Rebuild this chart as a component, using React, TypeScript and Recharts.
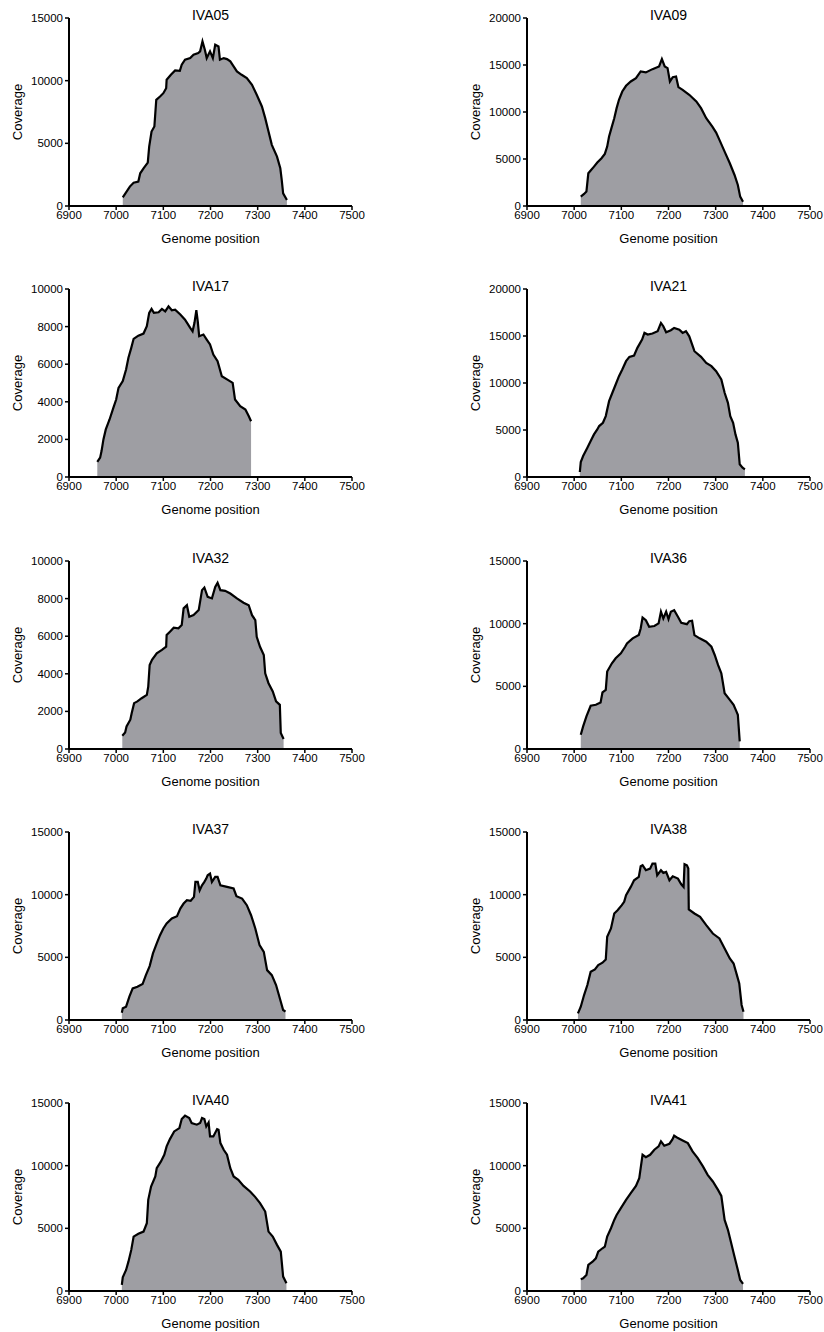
import { Area, AreaChart, Label, XAxis, YAxis } from "recharts";

type Pt = [number, number];

const xTicks = [6900, 7000, 7100, 7200, 7300, 7400, 7500];
const yTicks10k = [0, 2000, 4000, 6000, 8000, 10000];
const yTicks15k = [0, 5000, 10000, 15000];
const yTicks20k = [0, 5000, 10000, 15000, 20000];

// [genome position, coverage]
const iva05: Pt[] = [
  [7014, 690], [7029, 1550], [7037, 1860], [7047, 1950], [7051, 2610], [7058, 3010],
  [7067, 3460], [7070, 4740], [7075, 5940], [7081, 6340], [7085, 8470], [7093, 8740],
  [7100, 9000], [7106, 9400], [7107, 10070], [7116, 10470], [7125, 10820], [7135, 10790],
  [7139, 11270], [7146, 11670], [7157, 11800], [7164, 12070], [7174, 12200], [7178, 12340],
  [7183, 13130], [7188, 12470], [7192, 11800], [7199, 12340], [7205, 11800], [7210, 12870],
  [7217, 12730], [7220, 11670], [7228, 11800], [7235, 11720], [7242, 11540], [7249, 11140],
  [7256, 10740], [7266, 10470], [7277, 10200], [7288, 9670], [7298, 8870], [7309, 7940],
  [7316, 7010], [7323, 5940], [7330, 4880], [7341, 3940], [7348, 3010], [7351, 2080],
  [7354, 1010], [7362, 480],
];

const iva09: Pt[] = [
  [7014, 1000], [7021, 1280], [7026, 1530], [7030, 3480], [7035, 3770], [7042, 4190],
  [7049, 4620], [7058, 5080], [7065, 5540], [7070, 6320], [7074, 7390], [7079, 8280],
  [7085, 9340], [7090, 10410], [7095, 11300], [7102, 12180], [7110, 12790], [7120, 13250],
  [7131, 13600], [7141, 14320], [7152, 14210], [7166, 14560], [7180, 14850], [7186, 15630],
  [7192, 14850], [7198, 14670], [7203, 13250], [7209, 13710], [7216, 13780], [7221, 12650],
  [7230, 12360], [7244, 11830], [7259, 11120], [7269, 10410], [7280, 9340], [7293, 8450],
  [7301, 7810], [7308, 7030], [7319, 5790], [7330, 4550], [7340, 3300], [7347, 2240],
  [7352, 1000], [7358, 460],
];

const iva17: Pt[] = [
  [6960, 800], [6966, 1030], [6969, 1380], [6973, 2000], [6978, 2530], [6986, 3060],
  [6994, 3680], [7000, 4120], [7005, 4740], [7014, 5100], [7021, 5720], [7026, 6340],
  [7032, 6870], [7037, 7350], [7047, 7520], [7058, 7630], [7065, 8020], [7070, 8730],
  [7075, 8940], [7080, 8730], [7090, 8760], [7097, 8940], [7104, 8810], [7111, 9080],
  [7118, 8870], [7125, 8900], [7136, 8640], [7146, 8370], [7157, 7930], [7162, 7750],
  [7166, 8200], [7170, 8870], [7173, 8280], [7176, 7490], [7185, 7580], [7192, 7310],
  [7199, 7050], [7206, 6510], [7215, 6160], [7224, 5360], [7235, 5190], [7247, 5010],
  [7252, 4120], [7263, 3770], [7274, 3590], [7281, 3240], [7286, 2970],
];

const iva21: Pt[] = [
  [7012, 530], [7014, 1590], [7019, 2230], [7028, 3120], [7035, 3820], [7042, 4530],
  [7049, 5060], [7053, 5420], [7061, 5770], [7067, 6480], [7074, 8070], [7081, 8960],
  [7088, 9840], [7095, 10730], [7102, 11430], [7110, 12320], [7117, 12780], [7127, 12920],
  [7134, 13740], [7144, 14620], [7149, 15330], [7156, 15150], [7166, 15260], [7177, 15510],
  [7184, 16390], [7189, 16040], [7195, 15400], [7205, 15610], [7212, 15860], [7223, 15680],
  [7230, 15330], [7237, 15510], [7244, 14970], [7255, 13380], [7269, 12780], [7280, 12140],
  [7291, 11790], [7301, 11260], [7312, 10370], [7319, 8960], [7326, 7890], [7331, 6480],
  [7337, 5770], [7342, 4530], [7347, 3650], [7351, 1350], [7357, 990], [7362, 810],
];

const iva32: Pt[] = [
  [7013, 710], [7019, 880], [7022, 1200], [7030, 1560], [7033, 1910], [7038, 2440],
  [7045, 2530], [7054, 2700], [7065, 2880], [7068, 3320], [7071, 4470], [7076, 4740],
  [7086, 5090], [7097, 5270], [7106, 5440], [7107, 6060], [7114, 6240], [7122, 6450],
  [7132, 6420], [7139, 6590], [7143, 7480], [7150, 7650], [7155, 7030], [7164, 7120],
  [7175, 7390], [7182, 8450], [7187, 8590], [7194, 8090], [7203, 8010], [7210, 8620],
  [7215, 8840], [7221, 8450], [7231, 8410], [7242, 8270], [7256, 8010], [7270, 7780],
  [7281, 7650], [7288, 7120], [7295, 6860], [7298, 5970], [7305, 5440], [7313, 5000],
  [7316, 4030], [7323, 3500], [7332, 3060], [7339, 2530], [7347, 2350], [7349, 850],
  [7355, 530],
];

const iva36: Pt[] = [
  [7014, 1140], [7019, 1800], [7026, 2600], [7035, 3450], [7046, 3530], [7056, 3710],
  [7060, 4510], [7067, 4720], [7070, 6180], [7080, 6840], [7088, 7240], [7099, 7630],
  [7108, 8160], [7112, 8430], [7124, 8830], [7137, 9090], [7141, 9620], [7145, 10490],
  [7152, 10280], [7159, 9750], [7170, 9810], [7179, 10020], [7184, 10950], [7189, 10410],
  [7195, 10950], [7200, 10360], [7205, 10950], [7212, 11080], [7220, 10550], [7227, 10070],
  [7239, 9960], [7244, 10200], [7250, 10230], [7255, 9090], [7266, 8830], [7280, 8560],
  [7291, 8160], [7298, 7500], [7305, 6710], [7312, 6040], [7319, 4450], [7330, 3920],
  [7338, 3530], [7344, 3000], [7347, 2730], [7351, 610],
];

const iva37: Pt[] = [
  [7012, 580], [7014, 930], [7021, 1060], [7028, 1860], [7035, 2520], [7045, 2660],
  [7056, 2870], [7063, 3580], [7071, 4300], [7078, 5310], [7086, 6110], [7093, 6770],
  [7100, 7300], [7107, 7700], [7118, 8100], [7129, 8280], [7136, 8890], [7143, 9290],
  [7150, 9560], [7158, 9510], [7165, 9820], [7168, 11020], [7173, 11020], [7177, 10350],
  [7182, 10750], [7187, 11020], [7191, 11280], [7194, 11550], [7199, 11680], [7203, 11020],
  [7210, 11420], [7215, 11420], [7221, 10750], [7235, 10620], [7249, 10490], [7255, 9880],
  [7267, 9690], [7277, 9160], [7286, 8360], [7295, 7300], [7304, 5970], [7313, 5440],
  [7320, 3980], [7330, 3580], [7339, 2790], [7348, 1590], [7354, 800], [7359, 660],
];

const iva38: Pt[] = [
  [7008, 530], [7014, 1060], [7021, 1990], [7028, 2790], [7035, 3850], [7044, 4040],
  [7051, 4380], [7060, 4570], [7067, 4830], [7070, 6640], [7078, 7300], [7085, 8500],
  [7092, 8760], [7101, 9160], [7106, 9430], [7110, 9960], [7120, 10620], [7127, 11150],
  [7137, 11420], [7141, 12270], [7145, 12350], [7152, 11950], [7161, 12080], [7166, 12480],
  [7172, 12480], [7176, 11550], [7184, 11950], [7189, 11740], [7195, 11820], [7202, 11150],
  [7209, 11470], [7220, 11280], [7227, 10830], [7232, 10620], [7234, 12430], [7239, 12350],
  [7242, 12080], [7243, 8820], [7255, 8500], [7267, 8230], [7280, 7570], [7294, 6900],
  [7308, 6510], [7319, 5710], [7330, 4910], [7338, 4510], [7344, 3720], [7350, 2920],
  [7355, 1200], [7359, 660],
];

const iva40: Pt[] = [
  [7012, 480], [7014, 1090], [7021, 1680], [7026, 2340], [7032, 3280], [7037, 4340],
  [7047, 4560], [7058, 4740], [7065, 5410], [7068, 7270], [7074, 8340], [7083, 9140],
  [7086, 9800], [7095, 10340], [7102, 10870], [7107, 11540], [7114, 12120], [7123, 12730],
  [7134, 13000], [7139, 13720], [7146, 13990], [7155, 13800], [7160, 13400], [7171, 13270],
  [7178, 13400], [7182, 13800], [7187, 13720], [7191, 13130], [7196, 13450], [7199, 12330],
  [7206, 12330], [7214, 12920], [7217, 12870], [7221, 11800], [7228, 11270], [7235, 10870],
  [7242, 9800], [7249, 9140], [7259, 8870], [7270, 8390], [7284, 7940], [7295, 7490],
  [7305, 7010], [7316, 6340], [7323, 4740], [7332, 4340], [7341, 3680], [7349, 3140],
  [7354, 1150], [7361, 610],
];

const iva41: Pt[] = [
  [7014, 930], [7019, 1010], [7026, 1280], [7030, 2080], [7039, 2340], [7046, 2610],
  [7051, 3140], [7060, 3410], [7065, 3540], [7070, 4340], [7078, 5010], [7085, 5670],
  [7090, 6070], [7099, 6610], [7110, 7270], [7120, 7810], [7131, 8390], [7138, 9000],
  [7141, 9800], [7145, 10870], [7152, 10680], [7161, 10870], [7170, 11270], [7179, 11540],
  [7184, 11940], [7191, 11590], [7202, 11750], [7208, 12070], [7212, 12390], [7220, 12200],
  [7230, 12010], [7241, 11800], [7251, 11140], [7262, 10600], [7273, 9940], [7283, 9270],
  [7294, 8740], [7305, 8070], [7312, 7590], [7319, 5670], [7326, 4880], [7333, 3810],
  [7340, 2740], [7347, 1680], [7352, 880], [7358, 560],
];

const panels = [
  { name: "IVA05", points: iva05, yTicks: yTicks15k },
  { name: "IVA09", points: iva09, yTicks: yTicks20k },
  { name: "IVA17", points: iva17, yTicks: yTicks10k },
  { name: "IVA21", points: iva21, yTicks: yTicks20k },
  { name: "IVA32", points: iva32, yTicks: yTicks10k },
  { name: "IVA36", points: iva36, yTicks: yTicks15k },
  { name: "IVA37", points: iva37, yTicks: yTicks15k },
  { name: "IVA38", points: iva38, yTicks: yTicks15k },
  { name: "IVA40", points: iva40, yTicks: yTicks15k },
  { name: "IVA41", points: iva41, yTicks: yTicks15k },
];

const FONT = '"Liberation Sans", Arial, Helvetica, sans-serif';
const tickStyle = { fill: "#000", fontSize: 11.5, fontFamily: FONT };
const W = 366;
const H = 250;

function CoveragePanel({
  name,
  points,
  yTicks,
  left,
  top,
}: {
  name: string;
  points: Pt[];
  yTicks: number[];
  left: number;
  top: number;
}) {
  const data = points.map(([pos, cov]) => ({ pos, cov }));
  const yMax = yTicks[yTicks.length - 1];
  return (
    <div style={{ position: "absolute", left, top, width: W, height: H }}>
      <AreaChart width={W} height={H} data={data} margin={{ top: 18, right: 14, bottom: 0, left: 0 }}>
        <XAxis
          dataKey="pos"
          type="number"
          domain={[6900, 7500]}
          ticks={xTicks}
          height={44}
          tick={tickStyle}
          tickSize={4}
          tickMargin={1}
          axisLine={{ stroke: "#000", strokeWidth: 2 }}
          tickLine={{ stroke: "#000", strokeWidth: 1.5 }}
        >
          <Label value="Genome position" position="insideBottom" offset={7} fill="#000" fontSize={13} fontFamily={FONT} />
        </XAxis>
        <YAxis
          type="number"
          domain={[0, yMax]}
          ticks={yTicks}
          width={69}
          tick={tickStyle}
          tickSize={4}
          tickMargin={2}
          axisLine={{ stroke: "#000", strokeWidth: 2 }}
          tickLine={{ stroke: "#000", strokeWidth: 1.5 }}
        >
          <Label value="Coverage" angle={-90} position="center" dx={-17} fill="#000" fontSize={13} fontFamily={FONT} />
        </YAxis>
        <Area
          type="linear"
          dataKey="cov"
          stroke="#000"
          strokeWidth={2.2}
          fill="#9e9ea3"
          fillOpacity={1}
          isAnimationActive={false}
        />
      </AreaChart>
      <div
        style={{
          position: "absolute",
          left: 69,
          width: 283,
          top: 8,
          textAlign: "center",
          fontFamily: FONT,
          fontSize: 14,
          lineHeight: "14px",
          color: "#000",
        }}
      >
        {name}
      </div>
    </div>
  );
}

export default function App() {
  return (
    <div
      style={{
        position: "absolute",
        left: 0,
        top: 0,
        width: 824,
        height: 1332,
        background: "#fff",
        overflow: "hidden",
      }}
    >
      {panels.map((p, i) => (
        <CoveragePanel
          key={p.name}
          name={p.name}
          points={p.points}
          yTicks={p.yTicks}
          left={i % 2 === 0 ? 0 : 458}
          top={Math.round(Math.floor(i / 2) * 271.25)}
        />
      ))}
    </div>
  );
}
